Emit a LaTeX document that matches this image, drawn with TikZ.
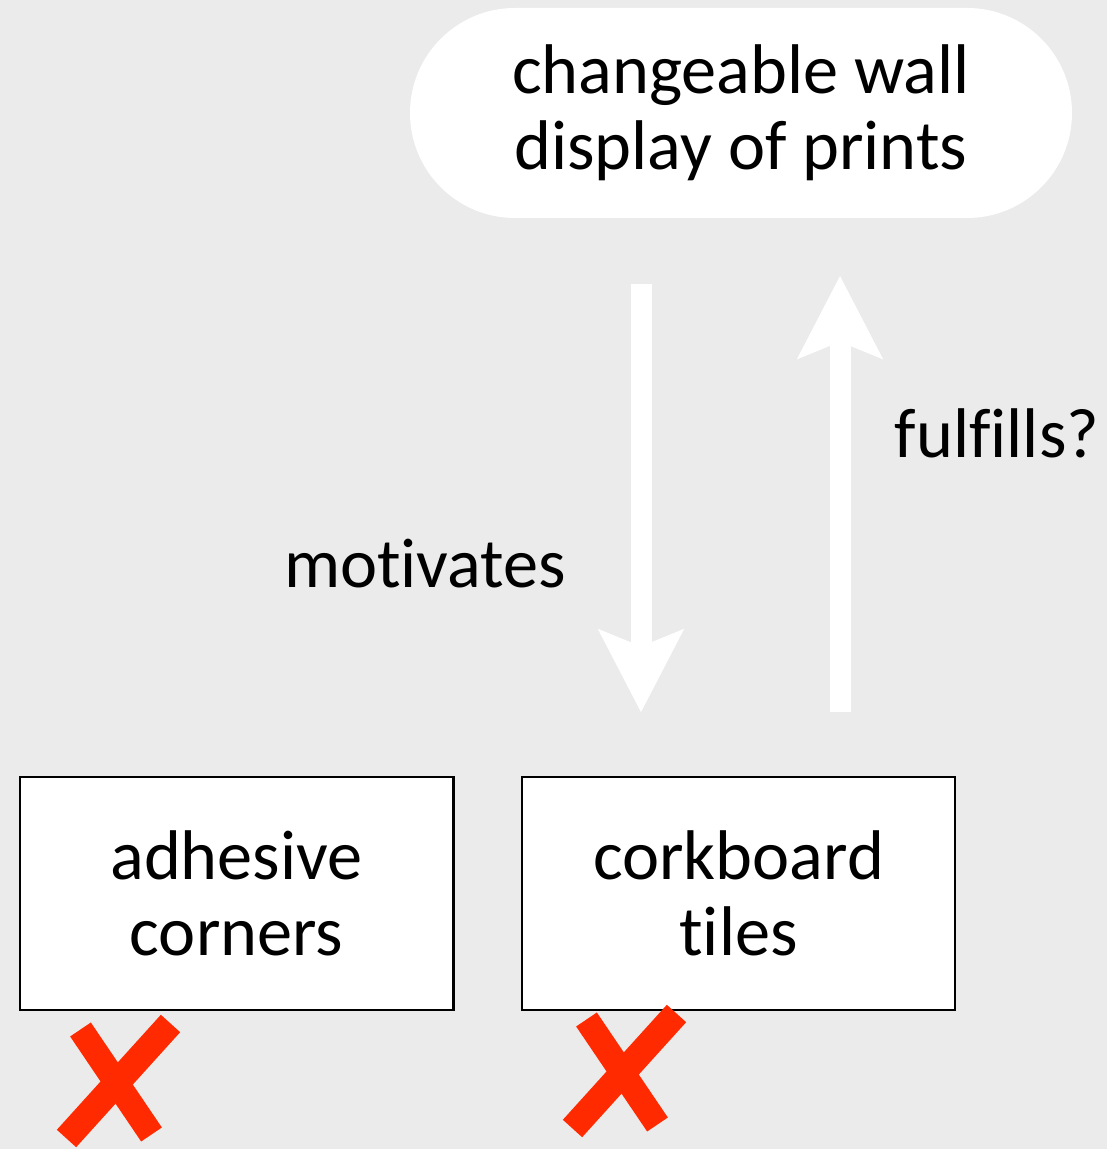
\documentclass[tikz,border=0pt]{standalone}
\usepackage{fontspec}
\setmainfont{Carlito}[Ligatures=NoCommon]
\usetikzlibrary{arrows.meta, positioning}
\definecolor{wallgray}{RGB}{235,235,235}
\definecolor{nored}{RGB}{255,42,0}

\begin{document}
\begin{tikzpicture}[
    every node/.style={font=\fontsize{20}{21.6}\selectfont, align=center, text=black},
    goal/.style={rectangle, fill=white, rounded corners=1.05cm, minimum width=6.62cm, minimum height=2.1cm, inner sep=0pt},
    option/.style={rectangle, draw=black, fill=white, line width=0.85pt, minimum width=4.33cm, minimum height=2.33cm, inner sep=0pt},
    bigarrow/.style={draw=white, line width=0.21cm, -{Stealth[length=0.82cm, width=0.83cm, inset=0.16cm]}},
    lbl/.style={anchor=base},
    nope/.pic={
        \draw[nored, line width=0.25cm] (-0.33,0.59) -- (0.38,-0.46);
        \draw[nored, line width=0.26cm] (0.57,0.65) -- (-0.47,-0.50);
    }
]

% background
\fill[wallgray] (0,0) rectangle (11.07,11.49);
\useasboundingbox (0,0) rectangle (11.07,11.49);

% ================= GOAL =================
\node[goal] (wall) at (7.41,10.36) {changeable wall\\display of prints};

% ================= OPTIONS =================
\node[option] (adhesive) at (2.365,2.555) {adhesive\\corners};
\node[option, right=0.66cm of adhesive] (corkboard) {corkboard\\tiles};

% ================= ARROWS =================
\draw[bigarrow, shorten <=0.65cm, shorten >=0.63cm] ([xshift=-1cm]wall.south) -- ([xshift=-1cm]wall.south |- corkboard.north);
\draw[bigarrow, shorten <=0.63cm, shorten >=0.57cm] ([xshift=0.99cm]wall.south |- corkboard.north) -- ([xshift=0.99cm]wall.south);

\node[lbl] (motiv) at (4.25,5.61) {motivates};
\node[lbl, anchor=base east, inner sep=0pt] (fulfil) at (11.0,6.91) {fulfills?};

% ruled out
\pic at ([shift={(0.95,-0.77)}]adhesive.south west) {nope};
\pic at ([shift={(0.99,-0.67)}]corkboard.south west) {nope};

\end{tikzpicture}
\end{document}
